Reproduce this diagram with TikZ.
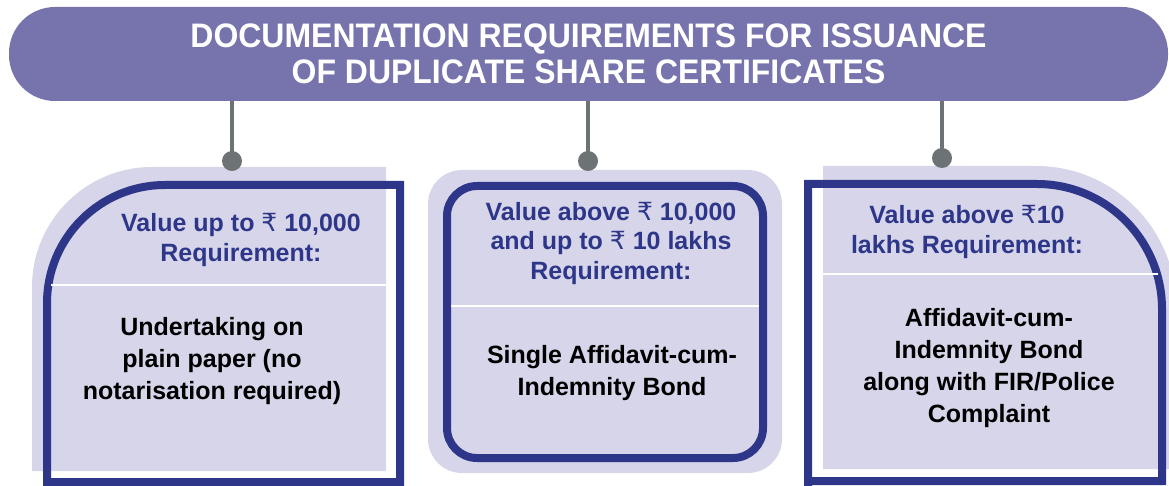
\documentclass[tikz,border=0pt]{standalone}
\usepackage{fontspec}
\setmainfont{Liberation Sans}
\newfontfamily\titlefont[FakeStretch=0.94]{Liberation Sans}
\newfontfamily\rupeefont{DejaVu Sans}
\newcommand{\inr}{{\rupeefont\mdseries ₹}}
\usetikzlibrary{calc}
\definecolor{headpurple}{RGB}{118,115,173}
\definecolor{lavender}{RGB}{214,213,233}
\definecolor{framblue}{RGB}{46,54,138}
\definecolor{pingray}{RGB}{109,114,117}
\tikzset{
  x=1pt, y=-1pt,
  titlebar/.style={fill=headpurple, rounded corners=46pt, minimum width=1159pt,
    minimum height=94pt, inner sep=0pt, text=white, align=center,
    font=\titlefont\bfseries\fontsize{34}{36}\selectfont},
  pin/.style={circle, fill=pingray, minimum size=20pt, inner sep=0pt},
  stem/.style={draw=pingray, line width=4pt},
  panelbg/.style={fill=lavender},
  framing/.style={draw=framblue, line width=8pt},
  divider/.style={draw=white, line width=2.5pt},
  headtext/.style={text=framblue, align=center, inner sep=0pt,
    font=\bfseries\fontsize{25}{29.5}\selectfont},
  bodytext/.style={text=black, align=center, inner sep=0pt,
    font=\bfseries\fontsize{25}{32}\selectfont},
}
\begin{document}
\begin{tikzpicture}
\useasboundingbox (0,0) rectangle (1169,486);

% title bar
\node[titlebar] (head) at (588.5,54)
  {DOCUMENTATION REQUIREMENTS FOR ISSUANCE\\OF DUPLICATE SHARE CERTIFICATES};

% left panel: rounded top-left corner
\fill[panelbg] (32,471) -- (32,287)
  .. controls (32,220.8) and (85.8,167) .. (152,167)
  -- (386,167) -- (386,471) -- cycle;
\draw[framing] (400,486) -- (400,185) -- (165,185)
  .. controls (99.9,185) and (47,237.9) .. (47,303)
  -- (47,482) -- (400,482);
\draw[divider] (51,285) -- (386,285);

% middle panel: fully rounded box
\fill[panelbg, rounded corners=34pt] (428,170) rectangle (782,473);
\draw[framing, rounded corners=30pt] (447,186) rectangle (763,458);
\draw[divider] (451,306) -- (759,306);

% right panel: rounded top-right corner
\fill[panelbg] (823,469) -- (823,166) -- (1036,166)
  .. controls (1113.3,166) and (1176,228.7) .. (1176,306)
  -- (1176,469) -- cycle;
\draw[framing] (808,486) -- (808,184) -- (1037,184)
  .. controls (1106,184) and (1162,240) .. (1162,309)
  -- (1162,481) -- (808,481);
\draw[divider] (823,274) -- (1158,274);

% connector pins
\node[pin] (p1) at (232,161) {};
\node[pin] (p2) at (588,161) {};
\node[pin] (p3) at (942,158) {};
\draw[stem] (p1.center) -- (p1 |- head.south);
\draw[stem] (p2.center) -- (p2 |- head.south);
\draw[stem] (p3.center) -- (p3 |- head.south);

% texts
\node[headtext] (h1) at (241,240) {Value up to \inr{} 10,000\\Requirement:};
\node[bodytext] (b1) at (212,361) {Undertaking on\\plain paper (no\\notarisation required)};

\node[headtext] (h2) at (611,243) {Value above \inr{} 10,000\\and up to \inr{} 10 lakhs\\Requirement:};
\node[bodytext] (b2) at (612,373) {Single Affidavit-cum-\\Indemnity Bond};

\node[headtext] (h3) at (967,232) {Value above \inr10\\lakhs Requirement:};
\node[bodytext] (b3) at (989,368) {Affidavit-cum-\\Indemnity Bond\\along with FIR/Police\\Complaint};
\end{tikzpicture}
\end{document}
